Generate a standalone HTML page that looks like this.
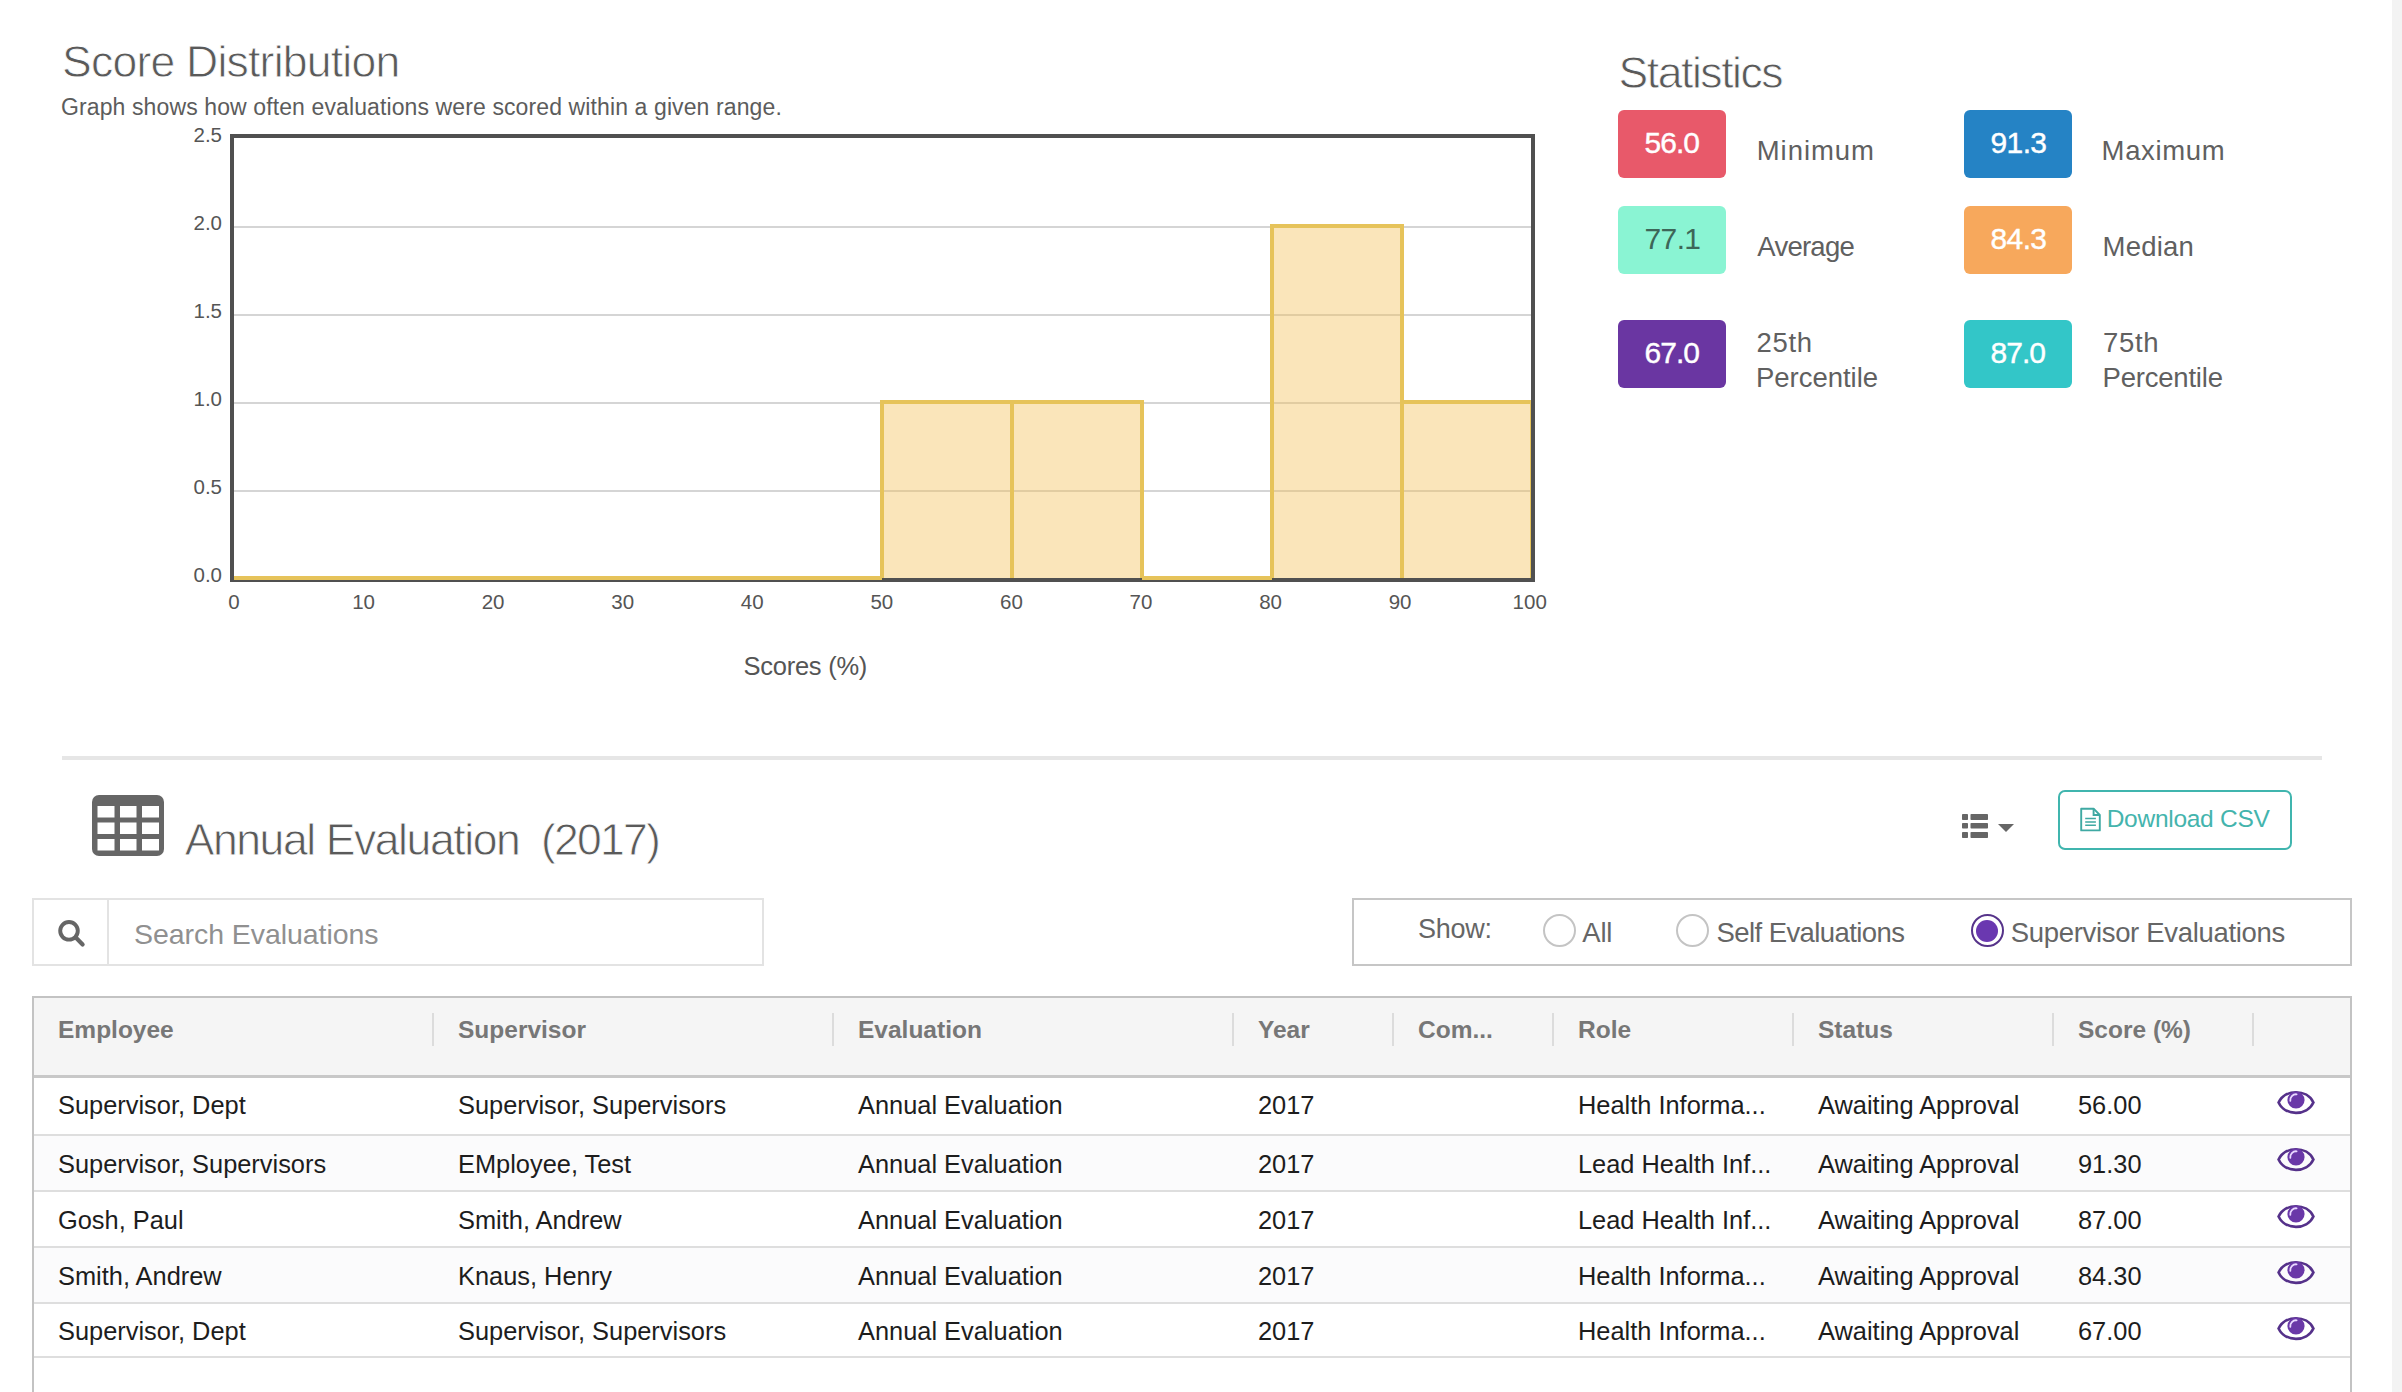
<!DOCTYPE html>
<html><head><meta charset="utf-8"><title>Score Distribution</title>
<style>
html,body{margin:0;padding:0;background:#fff;width:2402px;height:1392px;overflow:hidden}
body{position:relative;font-family:"Liberation Sans",sans-serif}
.t{position:absolute;white-space:pre;line-height:1}
</style></head><body>
<div class="t" style="left:62.00px;top:40.13px;font-size:44.5px;color:#5a5a5a;font-weight:400;letter-spacing:-0.765px;-webkit-text-stroke:0.8px #fff;">Score Distribution</div>
<div class="t" style="left:61.00px;top:96.23px;font-size:23px;color:#5c5c5c;font-weight:400;letter-spacing:0.112px;">Graph shows how often evaluations were scored within a given range.</div>
<svg width="2402" height="700" style="position:absolute;left:0;top:0">
<rect x="234" y="490" width="1297" height="2" fill="#d5d5d5"/>
<rect x="234" y="402" width="1297" height="2" fill="#d5d5d5"/>
<rect x="234" y="314" width="1297" height="2" fill="#d5d5d5"/>
<rect x="234" y="226" width="1297" height="2" fill="#d5d5d5"/>
<rect x="882.0" y="402" width="130.0" height="176" fill="rgba(242,190,82,0.4)"/>
<rect x="1012.0" y="402" width="130.0" height="176" fill="rgba(242,190,82,0.4)"/>
<rect x="1272.0" y="226" width="130.0" height="352" fill="rgba(242,190,82,0.4)"/>
<rect x="1402.0" y="402" width="130.0" height="176" fill="rgba(242,190,82,0.4)"/>
<rect x="230" y="134" width="1305" height="4" fill="#505050"/>
<rect x="230" y="578" width="1305" height="4" fill="#505050"/>
<rect x="234" y="576" width="648.0" height="4" fill="#e6c35a"/>
<rect x="1142.0" y="576" width="130.0" height="4" fill="#e6c35a"/>
<path d="M882.0 578 V402 H1012.0 V578" fill="none" stroke="#e6c35a" stroke-width="4"/>
<path d="M1012.0 578 V402 H1142.0 V578" fill="none" stroke="#e6c35a" stroke-width="4"/>
<path d="M1272.0 578 V226 H1402.0 V578" fill="none" stroke="#e6c35a" stroke-width="4"/>
<path d="M1402.0 578 V402 H1532.0 V578" fill="none" stroke="#e6c35a" stroke-width="4"/>
<rect x="230" y="134" width="4" height="448" fill="#505050"/>
<rect x="1531" y="134" width="4" height="448" fill="#505050"/>
</svg>
<div class="t" style="left:140px;width:82px;text-align:right;top:125.22px;font-size:20.5px;color:#555">2.5</div>
<div class="t" style="left:140px;width:82px;text-align:right;top:213.32px;font-size:20.5px;color:#555">2.0</div>
<div class="t" style="left:140px;width:82px;text-align:right;top:301.32px;font-size:20.5px;color:#555">1.5</div>
<div class="t" style="left:140px;width:82px;text-align:right;top:389.32px;font-size:20.5px;color:#555">1.0</div>
<div class="t" style="left:140px;width:82px;text-align:right;top:477.22px;font-size:20.5px;color:#555">0.5</div>
<div class="t" style="left:140px;width:82px;text-align:right;top:565.22px;font-size:20.5px;color:#555">0.0</div>
<div class="t" style="left:194.00px;width:80px;text-align:center;top:591.85px;font-size:20.5px;color:#555">0</div>
<div class="t" style="left:323.57px;width:80px;text-align:center;top:591.85px;font-size:20.5px;color:#555">10</div>
<div class="t" style="left:453.14px;width:80px;text-align:center;top:591.85px;font-size:20.5px;color:#555">20</div>
<div class="t" style="left:582.71px;width:80px;text-align:center;top:591.85px;font-size:20.5px;color:#555">30</div>
<div class="t" style="left:712.28px;width:80px;text-align:center;top:591.85px;font-size:20.5px;color:#555">40</div>
<div class="t" style="left:841.85px;width:80px;text-align:center;top:591.85px;font-size:20.5px;color:#555">50</div>
<div class="t" style="left:971.42px;width:80px;text-align:center;top:591.85px;font-size:20.5px;color:#555">60</div>
<div class="t" style="left:1100.99px;width:80px;text-align:center;top:591.85px;font-size:20.5px;color:#555">70</div>
<div class="t" style="left:1230.56px;width:80px;text-align:center;top:591.85px;font-size:20.5px;color:#555">80</div>
<div class="t" style="left:1360.13px;width:80px;text-align:center;top:591.85px;font-size:20.5px;color:#555">90</div>
<div class="t" style="left:1489.70px;width:80px;text-align:center;top:591.85px;font-size:20.5px;color:#555">100</div>
<div class="t" style="left:743.60px;top:654.21px;font-size:25.5px;color:#555;font-weight:400;letter-spacing:-0.267px;">Scores (%)</div>
<div class="t" style="left:1618.60px;top:50.63px;font-size:44.5px;color:#5a5a5a;font-weight:400;letter-spacing:-1.456px;-webkit-text-stroke:0.8px #fff;">Statistics</div>
<div style="position:absolute;left:1618px;top:110px;width:108px;height:68px;background:#e8596a;border-radius:6px"></div>
<div class="t" style="left:1644.60px;top:128.41px;font-size:30px;color:#fff;font-weight:400;letter-spacing:-1.000px;-webkit-text-stroke:0.4px #fff;">56.0</div>
<div class="t" style="left:1756.70px;top:136.72px;font-size:27.5px;color:#606060;font-weight:400;letter-spacing:0.967px;">Minimum</div>
<div style="position:absolute;left:1964px;top:110px;width:108px;height:68px;background:#2583c5;border-radius:6px"></div>
<div class="t" style="left:1990.60px;top:128.41px;font-size:30px;color:#fff;font-weight:400;letter-spacing:-0.667px;-webkit-text-stroke:0.4px #fff;">91.3</div>
<div class="t" style="left:2101.60px;top:136.72px;font-size:27.5px;color:#606060;font-weight:400;letter-spacing:0.633px;">Maximum</div>
<div style="position:absolute;left:1618px;top:206px;width:108px;height:68px;background:#8af4d3;border-radius:6px"></div>
<div class="t" style="left:1644.60px;top:224.41px;font-size:30px;color:#3d6658;font-weight:400;letter-spacing:-0.667px;">77.1</div>
<div class="t" style="left:1757.30px;top:233.12px;font-size:27.5px;color:#606060;font-weight:400;letter-spacing:-0.750px;">Average</div>
<div style="position:absolute;left:1964px;top:206px;width:108px;height:68px;background:#f7a85c;border-radius:6px"></div>
<div class="t" style="left:1990.60px;top:224.41px;font-size:30px;color:#fff;font-weight:400;letter-spacing:-0.667px;-webkit-text-stroke:0.4px #fff;">84.3</div>
<div class="t" style="left:2102.50px;top:233.12px;font-size:27.5px;color:#606060;font-weight:400;letter-spacing:0.220px;">Median</div>
<div style="position:absolute;left:1618px;top:320px;width:108px;height:68px;background:#6a36a2;border-radius:6px"></div>
<div class="t" style="left:1644.60px;top:338.41px;font-size:30px;color:#fff;font-weight:400;letter-spacing:-1.000px;-webkit-text-stroke:0.4px #fff;">67.0</div>
<div class="t" style="left:1756.50px;top:328.92px;font-size:27.5px;color:#606060;font-weight:400;letter-spacing:0.700px;">25th</div>
<div class="t" style="left:1756.00px;top:364.22px;font-size:27.5px;color:#606060;font-weight:400;letter-spacing:-0.022px;">Percentile</div>
<div style="position:absolute;left:1964px;top:320px;width:108px;height:68px;background:#33c6c8;border-radius:6px"></div>
<div class="t" style="left:1990.60px;top:338.41px;font-size:30px;color:#fff;font-weight:400;letter-spacing:-1.000px;-webkit-text-stroke:0.4px #fff;">87.0</div>
<div class="t" style="left:2103.00px;top:328.92px;font-size:27.5px;color:#606060;font-weight:400;letter-spacing:0.667px;">75th</div>
<div class="t" style="left:2102.50px;top:364.22px;font-size:27.5px;color:#606060;font-weight:400;letter-spacing:-0.200px;">Percentile</div>
<div style="position:absolute;left:62px;top:756px;width:2260px;height:4px;background:#e6e6e6"></div>
<svg style="position:absolute;left:92px;top:795px" width="72" height="61" viewBox="0 0 72 61">
<rect x="0" y="0" width="72" height="61" rx="7" fill="#666"/>
<g fill="#fff">
<rect x="5.5" y="11" width="17" height="11.5"/><rect x="28" y="11" width="16.5" height="11.5"/><rect x="50" y="11" width="17" height="11.5"/>
<rect x="5.5" y="27.5" width="17" height="11.5"/><rect x="28" y="27.5" width="16.5" height="11.5"/><rect x="50" y="27.5" width="17" height="11.5"/>
<rect x="5.5" y="44" width="17" height="11.5"/><rect x="28" y="44" width="16.5" height="11.5"/><rect x="50" y="44" width="17" height="11.5"/>
</g></svg>
<div class="t" style="left:184.70px;top:818.23px;font-size:44.5px;color:#5a5a5a;font-weight:400;letter-spacing:-1.419px;-webkit-text-stroke:0.8px #fff;">Annual Evaluation</div>
<div class="t" style="left:541.00px;top:818.23px;font-size:44.5px;color:#5a5a5a;font-weight:400;letter-spacing:-1.760px;-webkit-text-stroke:0.8px #fff;">(2017)</div>
<svg style="position:absolute;left:1960px;top:812px" width="60" height="30">
<g fill="#666">
<rect x="2" y="2" width="6" height="6" rx="0.8"/><rect x="10.5" y="2" width="17.5" height="6" rx="0.8"/>
<rect x="2" y="11" width="6" height="5.5" rx="0.8"/><rect x="10.5" y="11" width="17.5" height="5.5" rx="0.8"/>
<rect x="2" y="20" width="6" height="6" rx="0.8"/><rect x="10.5" y="20" width="17.5" height="6" rx="0.8"/>
<path d="M38 12 H54 L46 20 Z"/>
</g></svg>
<div style="position:absolute;left:2058px;top:790px;width:234px;height:60px;box-sizing:border-box;border:2.5px solid #40b5ae;border-radius:7px"></div>
<svg style="position:absolute;left:2079px;top:806px" width="24" height="27" viewBox="0 0 24 27">
<path d="M2.2 2.7 H14.6 L20.8 9 V24.4 H2.2 Z" fill="none" stroke="#3fa9a3" stroke-width="1.9" stroke-linejoin="round"/>
<path d="M14.6 2.7 V9 H20.8" fill="none" stroke="#3fa9a3" stroke-width="1.9"/>
<path d="M6.2 12.4 H16.9 M6.2 16.1 H16.9 M6.2 19.3 H16.9" stroke="#3fa9a3" stroke-width="1.5"/>
</svg>
<div class="t" style="left:2106.70px;top:807.26px;font-size:24.5px;color:#44b4ad;font-weight:400;letter-spacing:-0.273px;">Download CSV</div>
<div style="position:absolute;left:32px;top:898px;width:732px;height:68px;box-sizing:border-box;border:2px solid #e3e3e3"></div>
<div style="position:absolute;left:107px;top:898px;width:2px;height:68px;background:#e3e3e3"></div>
<svg style="position:absolute;left:55px;top:917px" width="32" height="32">
<circle cx="14" cy="13.8" r="8.8" fill="none" stroke="#666" stroke-width="3.9"/>
<path d="M21 20.8 L27.6 27.4" stroke="#666" stroke-width="4.2" stroke-linecap="round"/>
</svg>
<div class="t" style="left:134.00px;top:920.07px;font-size:28.5px;color:#909090;font-weight:400;letter-spacing:-0.059px;">Search Evaluations</div>
<div style="position:absolute;left:1352px;top:898px;width:1000px;height:68px;box-sizing:border-box;border:2px solid #c6c6c6"></div>
<div class="t" style="left:1418.00px;top:915.94px;font-size:27px;color:#666;font-weight:400;letter-spacing:-0.250px;">Show:</div>
<div style="position:absolute;left:1542.5px;top:914.2px;width:33px;height:33px;box-sizing:border-box;border:2px solid #c4c4c4;border-radius:50%"></div>
<div style="position:absolute;left:1676.0px;top:914.2px;width:33px;height:33px;box-sizing:border-box;border:2px solid #c4c4c4;border-radius:50%"></div>
<div style="position:absolute;left:1970.5px;top:914.2px;width:33px;height:33px;box-sizing:border-box;border:2.5px solid #56338a;border-radius:50%"></div>
<div style="position:absolute;left:1976px;top:919.7px;width:22px;height:22px;background:#6a38b0;border-radius:50%"></div>
<div class="t" style="left:1582.30px;top:918.72px;font-size:27.5px;color:#666;font-weight:400;letter-spacing:-0.250px;">All</div>
<div class="t" style="left:1716.50px;top:918.72px;font-size:27.5px;color:#666;font-weight:400;letter-spacing:-0.580px;">Self Evaluations</div>
<div class="t" style="left:2010.70px;top:918.72px;font-size:27.5px;color:#666;font-weight:400;letter-spacing:-0.319px;">Supervisor Evaluations</div>
<div style="position:absolute;left:32px;top:996px;width:2320px;height:420px;box-sizing:border-box;border:2px solid #c3c3c3;border-bottom:none"></div>
<div style="position:absolute;left:34px;top:998px;width:2316px;height:77px;background:#f5f5f5"></div>
<div style="position:absolute;left:34px;top:1075px;width:2316px;height:3px;background:#c8c8c8"></div>
<div class="t" style="left:58.00px;top:1017.56px;font-size:24.5px;color:#777;font-weight:700;letter-spacing:0px;">Employee</div>
<div class="t" style="left:458.00px;top:1017.56px;font-size:24.5px;color:#777;font-weight:700;letter-spacing:0px;">Supervisor</div>
<div class="t" style="left:858.00px;top:1017.56px;font-size:24.5px;color:#777;font-weight:700;letter-spacing:0px;">Evaluation</div>
<div class="t" style="left:1258.00px;top:1017.56px;font-size:24.5px;color:#777;font-weight:700;letter-spacing:0px;">Year</div>
<div class="t" style="left:1418.00px;top:1017.56px;font-size:24.5px;color:#777;font-weight:700;letter-spacing:0px;">Com...</div>
<div class="t" style="left:1578.00px;top:1017.56px;font-size:24.5px;color:#777;font-weight:700;letter-spacing:0px;">Role</div>
<div class="t" style="left:1818.00px;top:1017.56px;font-size:24.5px;color:#777;font-weight:700;letter-spacing:0px;">Status</div>
<div class="t" style="left:2078.00px;top:1017.56px;font-size:24.5px;color:#777;font-weight:700;letter-spacing:0px;">Score (%)</div>
<div style="position:absolute;left:432px;top:1013px;width:2px;height:33px;background:#dcdcdc"></div>
<div style="position:absolute;left:832px;top:1013px;width:2px;height:33px;background:#dcdcdc"></div>
<div style="position:absolute;left:1232px;top:1013px;width:2px;height:33px;background:#dcdcdc"></div>
<div style="position:absolute;left:1392px;top:1013px;width:2px;height:33px;background:#dcdcdc"></div>
<div style="position:absolute;left:1552px;top:1013px;width:2px;height:33px;background:#dcdcdc"></div>
<div style="position:absolute;left:1792px;top:1013px;width:2px;height:33px;background:#dcdcdc"></div>
<div style="position:absolute;left:2052px;top:1013px;width:2px;height:33px;background:#dcdcdc"></div>
<div style="position:absolute;left:2252px;top:1013px;width:2px;height:33px;background:#dcdcdc"></div>
<div style="position:absolute;left:34px;top:1134px;width:2316px;height:2px;background:#dedede"></div>
<div class="t" style="left:58.00px;top:1093.30px;font-size:25.4px;color:#1d1d1d;font-weight:400;letter-spacing:0px;">Supervisor, Dept</div>
<div class="t" style="left:458.00px;top:1093.30px;font-size:25.4px;color:#1d1d1d;font-weight:400;letter-spacing:0px;">Supervisor, Supervisors</div>
<div class="t" style="left:858.00px;top:1093.30px;font-size:25.4px;color:#1d1d1d;font-weight:400;letter-spacing:0px;">Annual Evaluation</div>
<div class="t" style="left:1258.00px;top:1093.30px;font-size:25.4px;color:#1d1d1d;font-weight:400;letter-spacing:0px;">2017</div>
<div class="t" style="left:1578.00px;top:1093.30px;font-size:25.4px;color:#1d1d1d;font-weight:400;letter-spacing:0px;">Health Informa...</div>
<div class="t" style="left:1818.00px;top:1093.30px;font-size:25.4px;color:#1d1d1d;font-weight:400;letter-spacing:0px;">Awaiting Approval</div>
<div class="t" style="left:2078.00px;top:1093.30px;font-size:25.4px;color:#1d1d1d;font-weight:400;letter-spacing:0px;">56.00</div>
<svg style="position:absolute;left:2277px;top:1089.8px" width="38" height="25" viewBox="0 0 38 25">
<path d="M1.6 12.5 C8 -1.2, 30 -1.2, 36.4 12.5 C30 26.2, 8 26.2, 1.6 12.5 Z" fill="none" stroke="#55318a" stroke-width="2.7"/>
<circle cx="19" cy="10" r="8.6" fill="#6a38a8"/>
<path d="M13.3 10.8 A5.8 5.8 0 0 1 19.6 4.3" fill="none" stroke="#e9d8ff" stroke-width="1.8" stroke-linecap="round"/>
</svg>
<div style="position:absolute;left:34px;top:1136px;width:2316px;height:54px;background:#fbfbfc"></div>
<div style="position:absolute;left:34px;top:1190px;width:2316px;height:2px;background:#dedede"></div>
<div class="t" style="left:58.00px;top:1151.50px;font-size:25.4px;color:#1d1d1d;font-weight:400;letter-spacing:0px;">Supervisor, Supervisors</div>
<div class="t" style="left:458.00px;top:1151.50px;font-size:25.4px;color:#1d1d1d;font-weight:400;letter-spacing:0px;">EMployee, Test</div>
<div class="t" style="left:858.00px;top:1151.50px;font-size:25.4px;color:#1d1d1d;font-weight:400;letter-spacing:0px;">Annual Evaluation</div>
<div class="t" style="left:1258.00px;top:1151.50px;font-size:25.4px;color:#1d1d1d;font-weight:400;letter-spacing:0px;">2017</div>
<div class="t" style="left:1578.00px;top:1151.50px;font-size:25.4px;color:#1d1d1d;font-weight:400;letter-spacing:0px;">Lead Health Inf...</div>
<div class="t" style="left:1818.00px;top:1151.50px;font-size:25.4px;color:#1d1d1d;font-weight:400;letter-spacing:0px;">Awaiting Approval</div>
<div class="t" style="left:2078.00px;top:1151.50px;font-size:25.4px;color:#1d1d1d;font-weight:400;letter-spacing:0px;">91.30</div>
<svg style="position:absolute;left:2277px;top:1147.3px" width="38" height="25" viewBox="0 0 38 25">
<path d="M1.6 12.5 C8 -1.2, 30 -1.2, 36.4 12.5 C30 26.2, 8 26.2, 1.6 12.5 Z" fill="none" stroke="#55318a" stroke-width="2.7"/>
<circle cx="19" cy="10" r="8.6" fill="#6a38a8"/>
<path d="M13.3 10.8 A5.8 5.8 0 0 1 19.6 4.3" fill="none" stroke="#e9d8ff" stroke-width="1.8" stroke-linecap="round"/>
</svg>
<div style="position:absolute;left:34px;top:1246px;width:2316px;height:2px;background:#dedede"></div>
<div class="t" style="left:58.00px;top:1207.50px;font-size:25.4px;color:#1d1d1d;font-weight:400;letter-spacing:0px;">Gosh, Paul</div>
<div class="t" style="left:458.00px;top:1207.50px;font-size:25.4px;color:#1d1d1d;font-weight:400;letter-spacing:0px;">Smith, Andrew</div>
<div class="t" style="left:858.00px;top:1207.50px;font-size:25.4px;color:#1d1d1d;font-weight:400;letter-spacing:0px;">Annual Evaluation</div>
<div class="t" style="left:1258.00px;top:1207.50px;font-size:25.4px;color:#1d1d1d;font-weight:400;letter-spacing:0px;">2017</div>
<div class="t" style="left:1578.00px;top:1207.50px;font-size:25.4px;color:#1d1d1d;font-weight:400;letter-spacing:0px;">Lead Health Inf...</div>
<div class="t" style="left:1818.00px;top:1207.50px;font-size:25.4px;color:#1d1d1d;font-weight:400;letter-spacing:0px;">Awaiting Approval</div>
<div class="t" style="left:2078.00px;top:1207.50px;font-size:25.4px;color:#1d1d1d;font-weight:400;letter-spacing:0px;">87.00</div>
<svg style="position:absolute;left:2277px;top:1203.5px" width="38" height="25" viewBox="0 0 38 25">
<path d="M1.6 12.5 C8 -1.2, 30 -1.2, 36.4 12.5 C30 26.2, 8 26.2, 1.6 12.5 Z" fill="none" stroke="#55318a" stroke-width="2.7"/>
<circle cx="19" cy="10" r="8.6" fill="#6a38a8"/>
<path d="M13.3 10.8 A5.8 5.8 0 0 1 19.6 4.3" fill="none" stroke="#e9d8ff" stroke-width="1.8" stroke-linecap="round"/>
</svg>
<div style="position:absolute;left:34px;top:1248px;width:2316px;height:54px;background:#fbfbfc"></div>
<div style="position:absolute;left:34px;top:1302px;width:2316px;height:2px;background:#dedede"></div>
<div class="t" style="left:58.00px;top:1263.70px;font-size:25.4px;color:#1d1d1d;font-weight:400;letter-spacing:0px;">Smith, Andrew</div>
<div class="t" style="left:458.00px;top:1263.70px;font-size:25.4px;color:#1d1d1d;font-weight:400;letter-spacing:0px;">Knaus, Henry</div>
<div class="t" style="left:858.00px;top:1263.70px;font-size:25.4px;color:#1d1d1d;font-weight:400;letter-spacing:0px;">Annual Evaluation</div>
<div class="t" style="left:1258.00px;top:1263.70px;font-size:25.4px;color:#1d1d1d;font-weight:400;letter-spacing:0px;">2017</div>
<div class="t" style="left:1578.00px;top:1263.70px;font-size:25.4px;color:#1d1d1d;font-weight:400;letter-spacing:0px;">Health Informa...</div>
<div class="t" style="left:1818.00px;top:1263.70px;font-size:25.4px;color:#1d1d1d;font-weight:400;letter-spacing:0px;">Awaiting Approval</div>
<div class="t" style="left:2078.00px;top:1263.70px;font-size:25.4px;color:#1d1d1d;font-weight:400;letter-spacing:0px;">84.30</div>
<svg style="position:absolute;left:2277px;top:1259.9px" width="38" height="25" viewBox="0 0 38 25">
<path d="M1.6 12.5 C8 -1.2, 30 -1.2, 36.4 12.5 C30 26.2, 8 26.2, 1.6 12.5 Z" fill="none" stroke="#55318a" stroke-width="2.7"/>
<circle cx="19" cy="10" r="8.6" fill="#6a38a8"/>
<path d="M13.3 10.8 A5.8 5.8 0 0 1 19.6 4.3" fill="none" stroke="#e9d8ff" stroke-width="1.8" stroke-linecap="round"/>
</svg>
<div style="position:absolute;left:34px;top:1356px;width:2316px;height:2px;background:#dedede"></div>
<div class="t" style="left:58.00px;top:1319.40px;font-size:25.4px;color:#1d1d1d;font-weight:400;letter-spacing:0px;">Supervisor, Dept</div>
<div class="t" style="left:458.00px;top:1319.40px;font-size:25.4px;color:#1d1d1d;font-weight:400;letter-spacing:0px;">Supervisor, Supervisors</div>
<div class="t" style="left:858.00px;top:1319.40px;font-size:25.4px;color:#1d1d1d;font-weight:400;letter-spacing:0px;">Annual Evaluation</div>
<div class="t" style="left:1258.00px;top:1319.40px;font-size:25.4px;color:#1d1d1d;font-weight:400;letter-spacing:0px;">2017</div>
<div class="t" style="left:1578.00px;top:1319.40px;font-size:25.4px;color:#1d1d1d;font-weight:400;letter-spacing:0px;">Health Informa...</div>
<div class="t" style="left:1818.00px;top:1319.40px;font-size:25.4px;color:#1d1d1d;font-weight:400;letter-spacing:0px;">Awaiting Approval</div>
<div class="t" style="left:2078.00px;top:1319.40px;font-size:25.4px;color:#1d1d1d;font-weight:400;letter-spacing:0px;">67.00</div>
<svg style="position:absolute;left:2277px;top:1315.5px" width="38" height="25" viewBox="0 0 38 25">
<path d="M1.6 12.5 C8 -1.2, 30 -1.2, 36.4 12.5 C30 26.2, 8 26.2, 1.6 12.5 Z" fill="none" stroke="#55318a" stroke-width="2.7"/>
<circle cx="19" cy="10" r="8.6" fill="#6a38a8"/>
<path d="M13.3 10.8 A5.8 5.8 0 0 1 19.6 4.3" fill="none" stroke="#e9d8ff" stroke-width="1.8" stroke-linecap="round"/>
</svg>
<div style="position:absolute;left:2392px;top:0;width:10px;height:1392px;background:#f3f3f3"></div>
</body></html>
